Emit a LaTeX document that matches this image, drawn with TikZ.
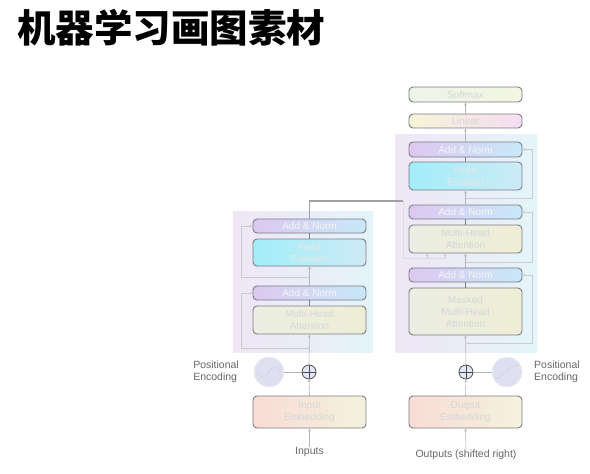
\documentclass[tikz,border=0pt]{standalone}
\usepackage{fontspec}
\setmainfont{Liberation Sans}
\newfontfamily\cjk{Noto Sans CJK SC}
\usetikzlibrary{arrows.meta}

\definecolor{boxline}{HTML}{7C7C84}
\definecolor{faint}{HTML}{D6D6D6}
\definecolor{labelgray}{HTML}{666666}
\definecolor{flowgray}{HTML}{B4B4B8}
\definecolor{linkgray}{HTML}{A2A2A2}
\definecolor{bgL}{HTML}{EFE6F6}
\definecolor{bgR}{HTML}{E4F4FA}
\definecolor{anL}{HTML}{DCC8F0}
\definecolor{anR}{HTML}{C8E8F8}
\definecolor{ffL}{HTML}{A2EEF8}
\definecolor{ffR}{HTML}{CCEAF6}
\definecolor{mhaL}{HTML}{ECEEE2}
\definecolor{mhaR}{HTML}{EEEED6}
\definecolor{embL}{HTML}{F8DCD6}
\definecolor{embR}{HTML}{F4F2DC}
\definecolor{linL}{HTML}{F6F4D6}
\definecolor{linR}{HTML}{F4DCF2}
\definecolor{smL}{HTML}{EEF4E8}
\definecolor{smR}{HTML}{F2F6E2}
\definecolor{peFill}{HTML}{DEE0F2}

\begin{document}
\begin{tikzpicture}[x=1pt,y=-1pt,
  box/.style={draw=boxline, line width=0.9pt, rounded corners=4pt, minimum width=113pt,
    inner sep=0pt, align=center, text=faint, font=\fontsize{10}{12}\selectfont},
  addnorm/.style={box, minimum height=14pt, left color=anL, right color=anR, text=white!93!gray},
  feedfwd/.style={box, minimum height=27pt, left color=ffL, right color=ffR, text=white!82!gray},
  attn/.style={box, left color=mhaL, right color=mhaR},
  embed/.style={box, minimum height=32pt, left color=embL, right color=embR},
  block/.style={draw=none, inner sep=0pt, left color=bgL, right color=bgR},
  addsym/.style={circle, draw=black!75, line width=0.7pt, fill=peFill!80!white, minimum size=14pt, inner sep=0pt},
  posenc/.style={circle, draw=white!88!gray, line width=0.6pt, fill=peFill, minimum size=30pt, inner sep=0pt},
  extlabel/.style={text=labelgray, font=\fontsize{10.5}{12}\selectfont, inner sep=0pt},
  flow/.style={draw=flowgray, line width=0.6pt, -{Stealth[length=3pt,width=2.6pt]}},
  res/.style={draw=flowgray!70!white, line width=0.6pt, -{Stealth[length=3pt,width=2.6pt]}}]

\useasboundingbox (0,0) rectangle (590,474);

% title
\node (title) [anchor=west, inner sep=0pt, font=\cjk\bfseries\fontsize{38.5}{42}\selectfont] at (17,28) {机器学习画图素材};

% encoder
\node (encblock) [block, minimum width=140pt, minimum height=141pt] at (303,281.5) {};
\node (encAN2) [addnorm] at (309.5,226) {Add \& Norm};
\node (encFF) [feedfwd] at (309.5,252.5) {Feed\\Forward};
\node (encAN1) [addnorm] at (309.5,293) {Add \& Norm};
\node (encMHA) [attn, minimum height=28pt] at (309.5,320) {Multi-Head\\Attention};
\node (encAdd) [addsym] at (309,372) {};
\node (encPE) [posenc] at (269,372) {};
\node (inEmb) [embed] at (309.5,412) {Input\\Embedding};
\node (inputs) [extlabel] at (309.5,452) {Inputs};
\node (encPElabel) [extlabel, anchor=east, align=left] at (239,372) {Positional\\Encoding};
\draw [white!65!gray, line width=0.6pt] plot[domain=-12:12, samples=40] ({269+\x},{372-5*sin(\x*15)});
\draw [black!70, line width=0.6pt] (encAdd.west) -- (encAdd.east) (encAdd.north) -- (encAdd.south);

\draw [flow] (inputs.north) -- (inEmb.south);
\draw [flow] (inEmb.north) -- (encAdd.south);
\draw [flowgray, line width=0.6pt] (encPE.east) -- (encAdd.west);
\draw [flow] (encAdd.north) -- (encMHA.south);
\draw [boxline, line width=0.6pt] (encMHA.north) -- (encAN1.south);
\draw [flow] (encAN1.north) -- (encFF.south);
\draw [boxline, line width=0.6pt] (encFF.north) -- (encAN2.south);
\draw [res] (309,348) -- (241,348) -- (241,293) -- (encAN1.west);
\draw [res] (309,277) -- (241,277) -- (241,226) -- (encAN2.west);

% decoder
\node (decblock) [block, minimum width=142pt, minimum height=218pt] at (466,243) {};
\node (softmax) [box, minimum height=15pt, left color=smL, right color=smR] at (465.5,94.5) {Softmax};
\node (linear) [box, minimum height=14pt, left color=linL, right color=linR] at (465.5,121) {Linear};
\node (decAN3) [addnorm, minimum height=15pt] at (465.5,149.5) {Add \& Norm};
\node (decFF) [feedfwd, minimum height=28pt] at (465.5,176) {Feed\\Forward};
\node (decAN2) [addnorm] at (465.5,212) {Add \& Norm};
\node (decMHA) [attn, minimum height=28pt] at (465.5,239) {Multi-Head\\Attention};
\node (decAN1) [addnorm] at (465.5,275) {Add \& Norm};
\node (decMMHA) [attn, minimum height=47pt] at (465.5,311.5) {Masked\\Multi-Head\\Attention};
\node (decAdd) [addsym] at (466,372) {};
\node (decPE) [posenc] at (507,372) {};
\node (outEmb) [embed] at (465.5,412) {Output\\Embedding};
\node (outputs) [extlabel] at (466,455) {Outputs (shifted right)};
\node (decPElabel) [extlabel, anchor=west, align=left] at (534,372) {Positional\\Encoding};
\draw [white!65!gray, line width=0.6pt] (495,379) .. controls (503,379) and (506,366) .. (519,365);
\draw [black!70, line width=0.6pt] (decAdd.west) -- (decAdd.east) (decAdd.north) -- (decAdd.south);

\draw [flow] (outputs.north) -- (outEmb.south);
\draw [flow] (outEmb.north) -- (decAdd.south);
\draw [flowgray, line width=0.6pt] (decPE.west) -- (decAdd.east);
\draw [flow] (decAdd.north) -- (decMMHA.south);
\draw [boxline, line width=0.6pt] (decMMHA.north) -- (decAN1.south);
\draw [flow] (decAN1.north) -- (decMHA.south);
\draw [boxline, line width=0.6pt] (decMHA.north) -- (decAN2.south);
\draw [flow] (decAN2.north) -- (decFF.south);
\draw [boxline, line width=0.6pt] (decFF.north) -- (decAN3.south);
\draw [flow] (decAN3.north) -- (linear.south);
\draw [flow] (linear.north) -- (softmax.south);
\draw [res] (465.5,343) -- (532,343) -- (532,275) -- (decAN1.east);
\draw [res] (465.5,262) -- (532,262) -- (532,212) -- (decAN2.east);
\draw [res] (465.5,198) -- (532,198) -- (532,149.5) -- (decAN3.east);

% encoder output into decoder
\draw [linkgray, line width=1.3pt] (encAN2.north) -- (309.5,201) -- (403,201);
\draw [flowgray!45!white, line width=0.6pt] (403,201) -- (403,258) -- (445,258);
\draw [res] (427,258) -- (427,253);
\draw [res] (445,258) -- (445,253);

\end{tikzpicture}
\end{document}
